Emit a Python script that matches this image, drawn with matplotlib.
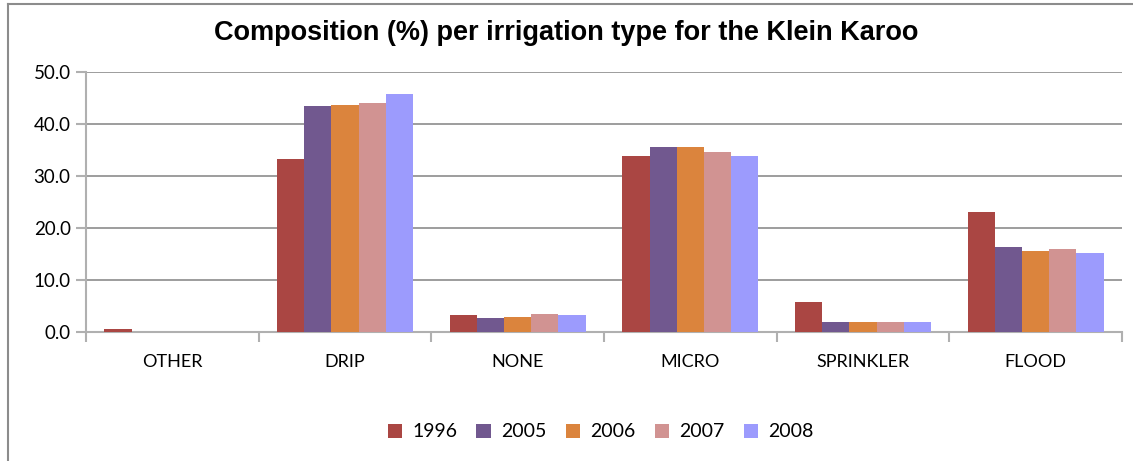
import numpy as np
import matplotlib.pyplot as plt
from matplotlib.lines import Line2D
from matplotlib.patches import Patch

categories = ["OTHER", "DRIP", "NONE", "MICRO", "SPRINKLER", "FLOOD"]
years = ["1996", "2005", "2006", "2007", "2008"]
share_1996 = [0.6, 33.3, 3.3, 33.9, 5.8, 23.1]
share_2005 = [0.0, 43.5, 2.6, 35.6, 2.0, 16.4]
share_2006 = [0.0, 43.7, 2.9, 35.6, 2.0, 15.6]
share_2007 = [0.0, 44.1, 3.5, 34.7, 2.0, 16.0]
share_2008 = [0.0, 45.8, 3.3, 33.9, 2.0, 15.1]
series = [share_1996, share_2005, share_2006, share_2007, share_2008]
colors = ["#AA4643", "#71588F", "#DB843D", "#D19392", "#9C9BFD"]

plt.rcParams['font.family'] = ['Lato', 'DejaVu Sans']

fig = plt.figure(figsize=(11.33, 4.61), dpi=100)
ax = fig.add_axes([0.0759, 0.2798, 0.9144, 0.564])

width = 0.1575
x = np.arange(len(categories)) + 0.5
for i, vals in enumerate(series):
    ax.bar(x + (i - 2) * width, vals, width, color=colors[i], label=years[i],
           zorder=3, linewidth=0)

ax.set_xlim(0, len(categories))
ax.set_ylim(0, 50)
ax.set_yticks(np.arange(0, 51, 10))
ax.set_yticklabels(["%.1f" % v for v in np.arange(0, 51, 10)], fontsize=13.5)
ax.yaxis.grid(True, color="#8c8c8c", linewidth=1.2, zorder=0)

# category labels sit between the boundary ticks
ax.set_xticks(np.arange(0, len(categories) + 1))
ax.set_xticklabels([])
ax.set_xticks(x, minor=True)
ax.set_xticklabels(categories, minor=True, fontsize=13)
ax.tick_params(axis='x', which='minor', length=0, pad=16)
ax.tick_params(axis='x', which='major', length=7, color="#b0b0b0", width=1.5)
ax.tick_params(axis='y', length=7, color="#b0b0b0", width=1.5, pad=4)

for side in ["top", "right"]:
    ax.spines[side].set_visible(False)
for side in ["left", "bottom"]:
    ax.spines[side].set_color("#b0b0b0")
    ax.spines[side].set_linewidth(1.5)

fig.text(0.5, 0.928, "Composition (%) per irrigation type for the Klein Karoo",
         ha='center', va='center', fontsize=19.5, fontweight='bold',
         family='Liberation Sans')

handles = [Patch(facecolor=c, label=y) for c, y in zip(colors, years)]
fig.legend(handles=handles, loc='center', bbox_to_anchor=(0.53, 0.063),
           ncol=5, frameon=False, fontsize=14, handlelength=0.75,
           handleheight=0.75, handletextpad=0.5, columnspacing=1.0)

# chart frame along top and left edges
fig.add_artist(Line2D([7.5 / 1133, 1], [1 - 4.5 / 461, 1 - 4.5 / 461],
                      color="#8c8c8c", linewidth=1.5, transform=fig.transFigure))
fig.add_artist(Line2D([7.5 / 1133, 7.5 / 1133], [0, 1 - 4.5 / 461],
                      color="#8c8c8c", linewidth=1.5, transform=fig.transFigure))

fig.savefig("out.png")
